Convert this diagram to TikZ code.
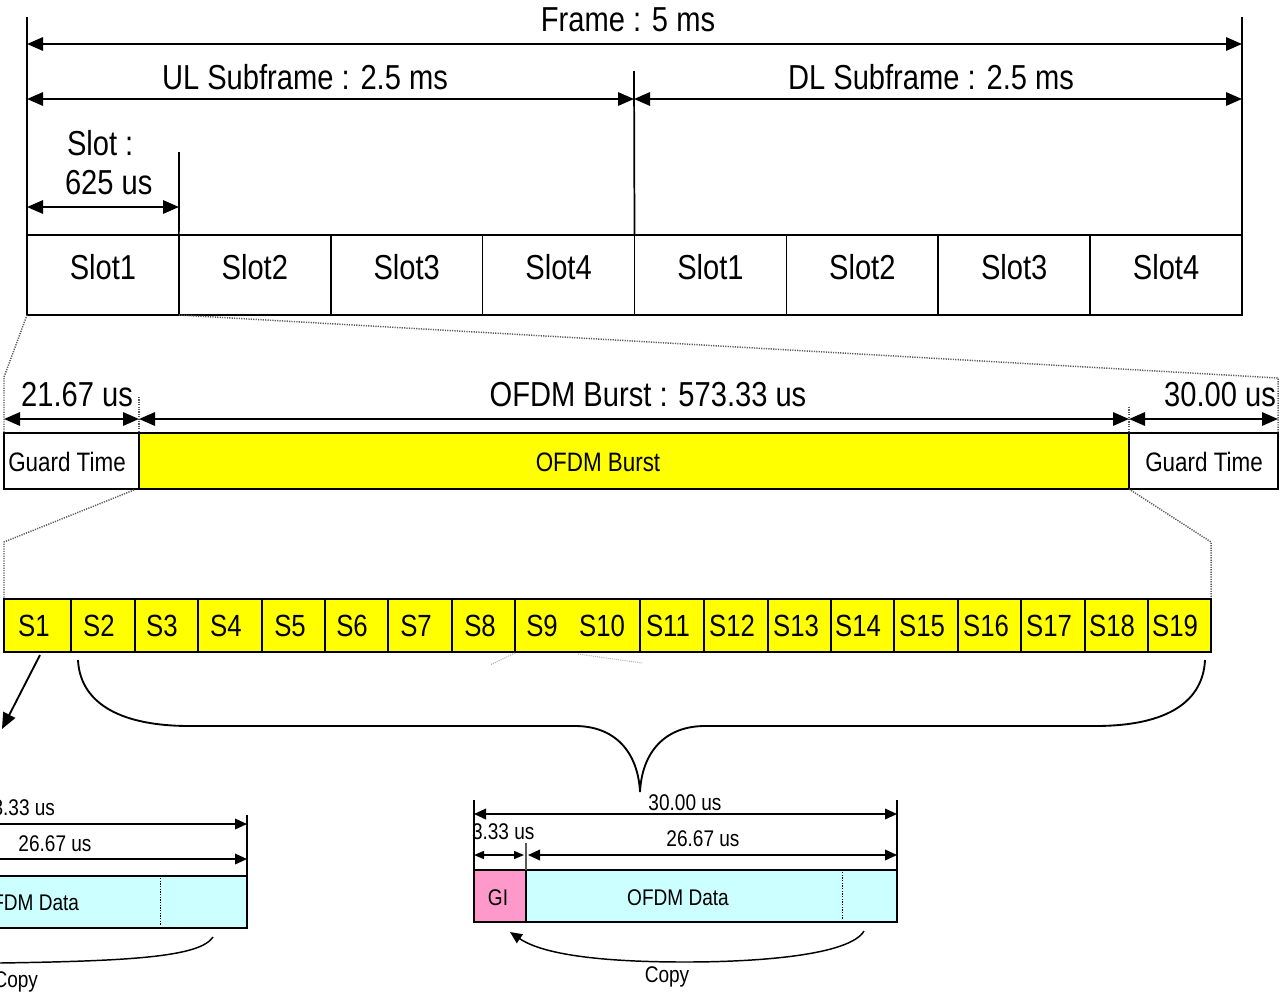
\documentclass[tikz,border=0pt]{standalone}
\usepackage{fontspec}
\setmainfont[FakeStretch=0.84]{Liberation Sans}
\usetikzlibrary{arrows.meta}
\definecolor{burst}{HTML}{FFFF00}
\definecolor{datacyan}{HTML}{CCFFFF}
\definecolor{gipink}{HTML}{FF99CC}
\begin{document}
\begin{tikzpicture}[x=0.75pt,y=-0.75pt,
  every node/.style={inner sep=0pt, outer sep=0pt},
  big/.style={font=\fontsize{26}{30}\selectfont},
  mid/.style={font=\fontsize{20}{24}\selectfont},
  smid/.style={font=\fontsize{23}{27}\selectfont},
  small/.style={font=\fontsize{17}{20}\selectfont},
  ln/.style={line width=1.3pt},
  dimarr/.style={line width=1.5pt,{Triangle[length=12pt,width=10pt]}-{Triangle[length=12pt,width=10pt]}},
  smallarr/.style={line width=1.1pt,{Triangle[length=9pt,width=8pt]}-{Triangle[length=9pt,width=8pt]}},
  tinyarr/.style={line width=1pt,{Triangle[length=7.5pt,width=6pt]}-{Triangle[length=7.5pt,width=6pt]}},
  dotln/.style={gray!70!black, line width=1.1pt, dash pattern=on 0.9pt off 0.9pt},
  cell/.style={draw, line width=1.3pt, anchor=north west, minimum height=60pt, minimum width=113.906pt},
  scell/.style={draw, line width=1.2pt, fill=burst, anchor=north west, minimum height=39.75pt},
  bbox/.style={draw, line width=1.2pt, anchor=north west, minimum height=42pt},
  dbox/.style={draw, line width=1.1pt, anchor=north west, minimum height=39pt}
]
\useasboundingbox (0,0) rectangle (1284,996);

% ---------------- top: frame / subframes / slots
\foreach \t [count=\k from 0] in {Slot1,Slot2,Slot3,Slot4,Slot1,Slot2,Slot3,Slot4}{
  \node[cell] (c\k) at ({27+151.875*\k},235) {};
  \node[big] (ct\k) at ([yshift=-24pt]c\k.north) {\t};
}
\coordinate (ftl) at (27,17);
\coordinate (ftr) at (1242,17);
\coordinate (fmid) at (634,71);
\coordinate (fslot) at (179,152);
\draw[ln] (c0.north west) -- (ftl);
\draw[ln] (c7.north east) -- (ftr);
\draw[ln] (c4.north west) -- (fmid);
\draw[ln] (c1.north west) -- (fslot);

\draw[dimarr] (27,44) -- (1242,44);
\node[big] (frame) at (628,20) {Frame : 5 ms};
\draw[dimarr] (27,99) -- (634,99);
\draw[dimarr] (634,99) -- (1242,99);
\node[big] (ul) at (305,77) {UL Subframe : 2.5 ms};
\node[big] (dl) at (931,77) {DL Subframe : 2.5 ms};
\draw[dimarr] (27,207) -- (179,207);
\node[big, anchor=west] (slotlbl) at (67,143) {Slot :};
\node[big, anchor=west] (slotval) at (65,183) {625 us};

% ---------------- middle: guard / OFDM burst
\draw[dotln] (c0.south west) -- (4,377) -- (4,433);
\draw[dotln] (c0.south east) -- (1278,378) -- (1278,433);
\draw[dotln] (139,397) -- (139,433);
\draw[dotln] (1129,407) -- (1129,433);

\node[bbox, minimum width=101.25pt] (g1) at (4,433) {};
\node[bbox, fill=burst, minimum width=742.5pt] (ob) at (139,433) {};
\node[bbox, minimum width=111.75pt] (g2) at (1129,433) {};
\node[mid] (g1t) at (67,462) {Guard Time};
\node[mid] (obt) at (598,462) {OFDM Burst};
\node[mid] (g2t) at (1204,462) {Guard Time};

\draw[dimarr] (4,419) -- (139,419);
\draw[dimarr] (139,419) -- (1129,419);
\draw[dimarr] (1129,419) -- (1278,419);
\node[big] (d1) at (77,395) {21.67 us};
\node[big] (d2) at (648,395) {OFDM Burst : 573.33 us};
\node[big] (d3) at (1220,395) {30.00 us};

\draw[dotln] (134,490) -- (4,542) -- (4,599);
\draw[dotln] (g2.south west) -- (1211,542) -- (1211,599);

% ---------------- symbols row
\foreach \a/\b [count=\k] in {4/71,71/135,135/198,198/262,262/325,325/388,388/452,452/515,515/640,640/704,704/768,768/831,831/894,894/958,958/1021,1021/1085,1085/1148,1148/1211}{
  \node[scell, minimum width={(\b-\a)*0.75pt}] (sc\k) at (\a,599) {};
}
\foreach \x [count=\k] in {34,99,162,226,290,352,416,480,542,602,668,732,796,858,922,986,1049,1112,1175}{
  \node[smid] (s\k) at (\x,626) {S\k};
}
\draw[gray!60, line width=0.8pt, dash pattern=on 0.8pt off 0.8pt] (515,653) -- (490,665);
\draw[gray!60, line width=0.8pt, dash pattern=on 0.8pt off 0.8pt] (578,654) -- (642,663);

\coordinate (s1tip) at (2,729);
\draw[line width=1.4pt, -{Triangle[length=12pt,width=10pt]}] (40,655) -- (s1tip);

% brace
\coordinate (brtip) at (640,792);
\draw[line width=1.4pt] (78,660) .. controls (80,700) and (115,726) .. (190,726) -- (575,726)
  .. controls (615,726) and (638,752) .. (brtip)
  .. controls (642,752) and (665,726) .. (705,726) -- (1095,726)
  .. controls (1170,726) and (1203,700) .. (1205,660);

% ---------------- bottom left (partial symbol)
\node[dbox, fill=datacyan, minimum width=258.75pt] (ldata) at (-98,876) {};
\draw[ln] (247,815) -- (ldata.north east);
\draw[line width=1.1pt, -{Triangle[length=9pt,width=8pt]}] (-60,824) -- (247,824);
\draw[line width=1.1pt, -{Triangle[length=9pt,width=8pt]}] (-60,859) -- (247,859);
\draw[black, line width=0.7pt, dash pattern=on 1pt off 1pt] (160,878) -- (160,926);
\node[small, anchor=east] (l333) at (55,808) {3.33 us};
\node[small] (l2667) at (55,844) {26.67 us};
\node[small, anchor=east] (lofdm) at (79,903) {OFDM Data};
\node[small, anchor=east] (lcopy) at (38,982) {Copy};
\draw[line width=1.1pt] (213,937) .. controls (200,957) and (130,961) .. (0,963) -- (-40,964);

% ---------------- bottom right (symbol)
\node[dbox, fill=gipink, minimum width=39pt] (gi) at (474,870) {};
\node[dbox, fill=datacyan, minimum width=278.25pt] (rdata) at (526,870) {};
\draw[line width=1.8pt] (gi.north east) -- (gi.south east);
\node[small] (git) at (498,898) {GI};
\node[small] (rdt) at (678,898) {OFDM Data};
\draw[black, line width=0.7pt, dash pattern=on 1pt off 1pt] (842,872) -- (842,920);
\draw[line width=1pt] (gi.north west) -- (474,800);
\draw[line width=1pt] (rdata.north east) -- (897,800);
\draw[line width=1pt, gray!70!black] (gi.north east) -- (526,843);
\draw[smallarr] (474,814) -- (897,814);
\draw[tinyarr] (474,855) -- (524,855);
\draw[smallarr] (528,855) -- (897,855);
\node[small] (r30) at (685,803) {30.00 us};
\node[small, anchor=west] (r333) at (472,832) {3.33 us};
\node[small] (r2667) at (703,839) {26.67 us};
\draw[line width=1.1pt, -{Triangle[length=9pt,width=8pt]}] (864,931) .. controls (850,955) and (760,962) .. (685,962) .. controls (610,962) and (545,956) .. (510,932);
\node[small] (rcopy) at (667,977) {Copy};
\end{tikzpicture}
\end{document}
